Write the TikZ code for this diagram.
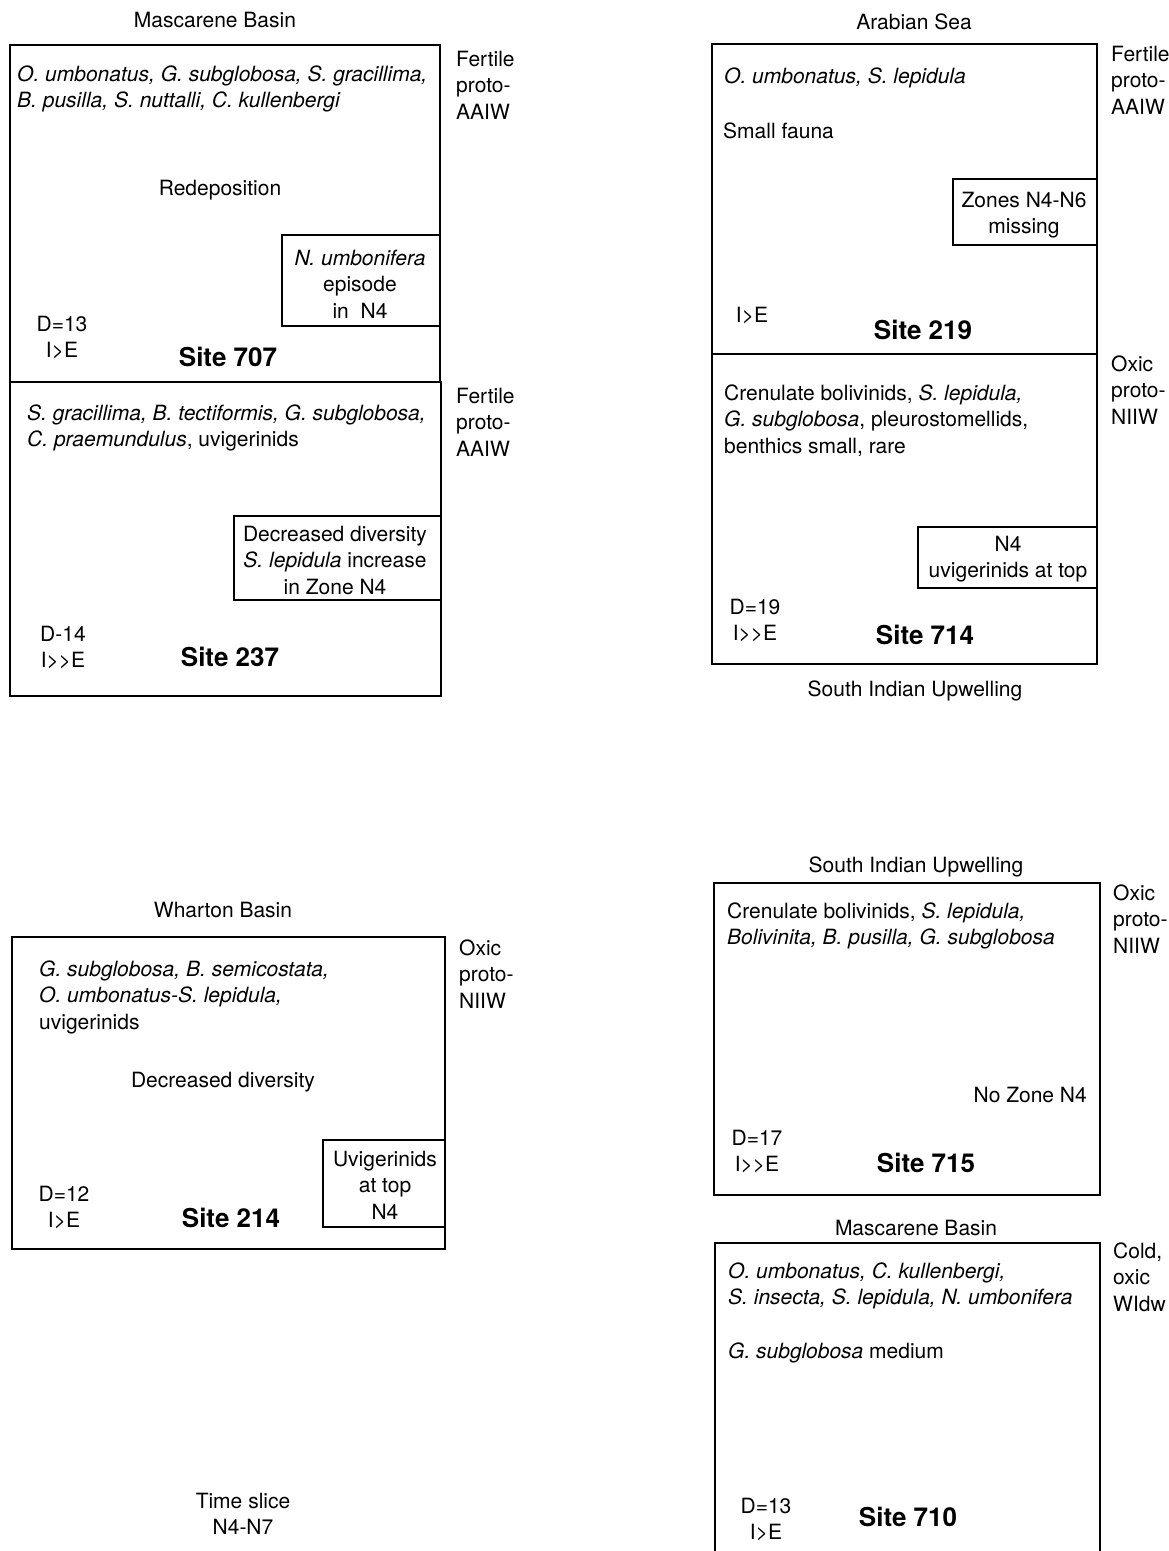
\documentclass[tikz,border=0pt]{standalone}
\usepackage{fontspec}
\setmainfont{TeX Gyre Heros}[Ligatures=TeXOff]
\usepackage{tikz}
\newcommand{\txtsz}{\fontsize{21}{26.5}\selectfont}
\newcommand{\sitesz}{\fontsize{26}{30}\selectfont\bfseries}
\tikzset{
    sitebox/.style={draw, line width=2.2pt},
    inset/.style={draw, line width=1.9pt},
    plain txt/.style={font=\txtsz, inner sep=0pt, anchor=base},
    block txt/.style={font=\txtsz, inner sep=0pt, align=left, anchor=north west},
    mid txt/.style={font=\txtsz, inner sep=0pt, align=center, anchor=north},
    site name/.style={font=\sitesz, inner sep=0pt, anchor=base}
}

\begin{document}
\begin{tikzpicture}[x=1pt, y=-1pt]
    \useasboundingbox (0,0) rectangle (1169,1551);

    \node[plain txt] (basin707) at (215,27.5) {Mascarene Basin};
    \draw[sitebox] (10,45) rectangle (440,382);
    \node[block txt] (taxa707) at (17,65.5) {\textit{O. umbonatus, G. subglobosa, S. gracillima,}\\\textit{B. pusilla, S. nuttalli, C. kullenbergi}};
    \node[block txt] (water707) at (456,50.5) {Fertile\\proto-\\AAIW};
    \node[plain txt] (redep707) at (220,195.5) {Redeposition};
    \draw[inset] (282,235) rectangle (440,326);
    \node[mid txt] (umbo707) at (360,249.5) {\textit{N. umbonifera}\\episode\\in\ \ N4};
    \node[mid txt] (div707) at (62,315.5) {D=13\\I>E};
    \node[site name] (site707) at (228,366.5) {Site 707};

    \draw[sitebox] (10,382) rectangle (441,696);
    \node[block txt] (taxa237) at (27,404.5) {\textit{S. gracillima, B. tectiformis, G. subglobosa,}\\\textit{C. praemundulus}, uvigerinids};
    \node[block txt] (water237) at (456,387.5) {Fertile\\proto-\\AAIW};
    \draw[inset] (234,516) rectangle (441,600);
    \node[mid txt] (decr237) at (335,525.5) {Decreased diversity\\\textit{S. lepidula} increase\\in Zone N4};
    \node[mid txt] (div237) at (63,625.5) {D-14\\I>>E};
    \node[site name] (site237) at (230,666.5) {Site 237};

    \node[plain txt] (basin219) at (914,29.5) {Arabian Sea};
    \draw[sitebox] (712,44) rectangle (1097,354);
    \node[block txt] (taxa219) at (724,67.5) {\textit{O. umbonatus, S. lepidula}};
    \node[block txt] (fauna219) at (723,122.5) {Small fauna};
    \node[block txt] (water219) at (1111,45.5) {Fertile\\proto-\\AAIW};
    \draw[inset] (953,179) rectangle (1097,245);
    \node[mid txt] (miss219) at (1024,191.5) {Zones N4-N6\\missing};
    \node[plain txt] (div219) at (752,322.5) {I>E};
    \node[site name] (site219) at (923,339.5) {Site 219};

    \draw[sitebox] (712,354) rectangle (1097,664);
    \node[block txt] (water714) at (1111,355.5) {Oxic\\proto-\\NIIW};
    \node[block txt] (taxa714) at (724,384.5) {Crenulate bolivinids, \textit{S. lepidula,}\\\textit{G. subglobosa}, pleurostomellids,\\benthics small, rare};
    \draw[inset] (918,527) rectangle (1097,588);
    \node[mid txt] (top714) at (1008,535.5) {N4\\uvigerinids at top};
    \node[mid txt] (div714) at (755,598.5) {D=19\\I>>E};
    \node[site name] (site714) at (925,644.5) {Site 714};
    \node[plain txt] (upw714) at (915,696.5) {South Indian Upwelling};

    \node[plain txt] (basin214) at (223,917.5) {Wharton Basin};
    \draw[sitebox] (12,937) rectangle (445,1249);
    \node[block txt] (water214) at (459,939.5) {Oxic\\proto-\\NIIW};
    \node[block txt] (taxa214) at (39,960.5) {\textit{G. subglobosa, B. semicostata,}\\\textit{O. umbonatus-S. lepidula,}\\uvigerinids};
    \node[plain txt] (decr214) at (223,1087.5) {Decreased diversity};
    \draw[inset] (323,1140) rectangle (445,1227);
    \node[mid txt] (uvig214) at (385,1150.5) {Uvigerinids\\at top\\N4};
    \node[mid txt] (div214) at (64,1185.5) {D=12\\I>E};
    \node[site name] (site214) at (231,1227.5) {Site 214};

    \node[mid txt] (slice) at (243,1492.5) {Time slice\\N4-N7};

    \node[plain txt] (upw715) at (916,872.5) {South Indian Upwelling};
    \draw[sitebox] (714,883) rectangle (1100,1195);
    \node[block txt] (water715) at (1113,884.5) {Oxic\\proto-\\NIIW};
    \node[block txt] (taxa715) at (727,902.5) {Crenulate bolivinids, \textit{S. lepidula,}\\\textit{Bolivinita, B. pusilla, G. subglobosa}};
    \node[plain txt, anchor=base east] (nozone715) at (1087,1102.5) {No Zone N4};
    \node[mid txt] (div715) at (757,1129.5) {D=17\\I>>E};
    \node[site name] (site715) at (926,1172.5) {Site 715};

    \node[plain txt] (basin710) at (916,1235.5) {Mascarene Basin};
    \draw[sitebox] (715,1551) -- (715,1243) -- (1100,1243) -- (1100,1551);
    \node[block txt] (water710) at (1113,1242.5) {Cold,\\oxic\\WIdw};
    \node[block txt] (taxa710) at (728,1262.5) {\textit{O. umbonatus, C. kullenbergi,}\\\textit{S. insecta, S. lepidula, N. umbonifera}};
    \node[block txt] (med710) at (728,1342.5) {\textit{G. subglobosa} medium};
    \node[mid txt] (div710) at (766,1497.5) {D=13\\I>E};
    \node[site name] (site710) at (908,1526.5) {Site 710};

\end{tikzpicture}
\end{document}
